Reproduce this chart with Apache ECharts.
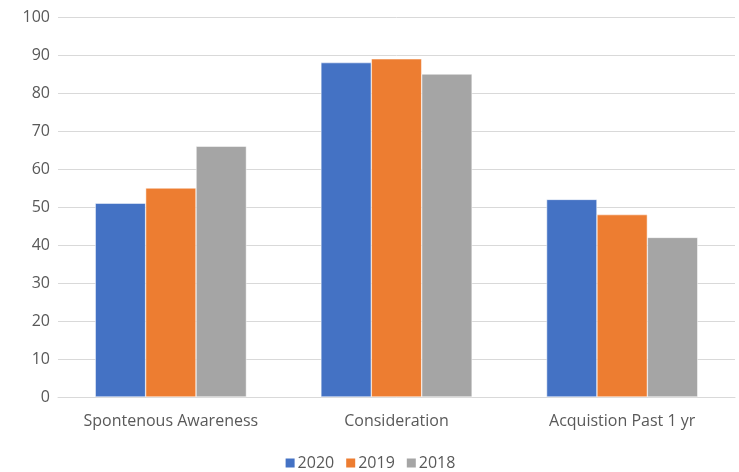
<!DOCTYPE html>
<html>
<head>
<meta charset="utf-8">
<script src="https://cdn.jsdelivr.net/npm/echarts@6/dist/echarts.min.js"></script>
<style>
  html, body { margin: 0; padding: 0; background: #fff; }
  #chart { width: 739px; height: 472px; }
</style>
</head>
<body>
<div id="chart"></div>
<script>
var categories = ['Spontenous Awareness', 'Consideration', 'Acquistion Past 1 yr'];
var years = ['2020', '2019', '2018'];
var values2020 = [51, 88, 52];
var values2019 = [55, 89, 48];
var values2018 = [66, 85, 42];
var colors = ['#4472C4', '#ED7D31', '#A5A5A5'];

var chart = echarts.init(document.getElementById('chart'));
var textFont = '"Open Sans", "Liberation Sans", sans-serif';

function barSeries(name, data, idx) {
  return {
    name: name,
    type: 'bar',
    data: data,
    barGap: '0%',
    barCategoryGap: '33%',
    itemStyle: { color: colors[idx], borderColor: '#fff', borderWidth: 0.5 }
  };
}

var option = {
  animation: false,
  grid: { left: 58, right: 4, top: 17, bottom: 75 },
  legend: {
    data: years,
    top: 450,
    itemWidth: 11,
    itemHeight: 11,
    itemGap: 10,
    icon: 'rect',
    textStyle: { color: '#595959', fontSize: 16, fontFamily: textFont, padding: [0, 0, 0, -3] }
  },
  xAxis: {
    type: 'category',
    data: categories,
    axisLine: { lineStyle: { color: '#D9D9D9', width: 1 } },
    axisTick: { show: false },
    axisLabel: { color: '#595959', fontSize: 16, fontFamily: textFont, margin: 16, interval: 0, hideOverlap: false }
  },
  yAxis: {
    type: 'value',
    min: 0,
    max: 100,
    interval: 10,
    axisLine: { show: false },
    axisTick: { show: false },
    splitLine: { lineStyle: { color: '#D9D9D9', width: 1 } },
    axisLabel: { color: '#595959', fontSize: 16, fontFamily: textFont, margin: 8 }
  },
  series: [
    barSeries(years[0], values2020, 0),
    barSeries(years[1], values2019, 1),
    barSeries(years[2], values2018, 2)
  ]
};

chart.setOption(option);
</script>
</body>
</html>
